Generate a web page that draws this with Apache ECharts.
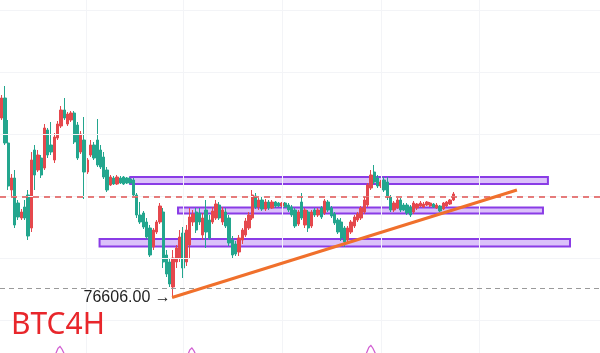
<!DOCTYPE html>
<html>
<head>
<meta charset="utf-8">
<script src="https://cdn.jsdelivr.net/npm/echarts@6/dist/echarts.min.js"></script>
<style>html,body{margin:0;padding:0;background:#fff}#c{width:600px;height:353px}</style>
</head>
<body>
<div id="c"></div>
<script>
// ---- data ----
const slotCount = 182; // visible 4H slots (candles + empty space on the right)
const categories = Array.from({length: slotCount}, (_, i) => 'k' + i);

// [open, close, low, high]
const candles = [
[94600,96600,94400,96900],[96600,92100,91900,97800],[92100,87800,87400,94400],[87400,88600,86800,89000],
[88600,83900,83600,89400],[86100,84700,84400,86400],[84600,85200,84400,85500],[85700,84600,84400,86400],
[86900,82800,82400,87400],[83600,90400,83200,91200],[91400,88900,87400,91900],[89400,90900,89200,91400],
[90600,88900,88600,90900],[89600,93600,89400,94000],[93400,90900,90600,93600],[91900,91200,90900,94200],
[90400,92700,90100,93100],[92600,94000,92400,94300],[93800,95400,93600,95800],[95400,94600,94400,96600],
[94000,95000,93800,95200],[94400,95100,94200,95300],[95100,92200,92000,95300],[93900,90600,90400,94200],
[91200,93000,91000,93300],[92400,89200,86500,94700],[89200,90400,89000,90600],[90900,91900,90700,92400],
[91900,90600,90400,92200],[92400,89900,89700,94500],[91400,89700,89500,91900],[90700,88700,88500,91200],
[89400,87400,87200,89700],[87900,88700,87800,88900],[88600,88000,87900,88800],[88000,88700,87900,88900],
[88600,88100,88000,88800],[88700,88000,87900,88800],[88600,88100,88000,88700],[88500,88100,88000,88700],
[88400,86900,86700,88600],[86900,84900,84600,87100],[84900,84200,84000,86200],[85100,83700,83500,85300],
[84200,82700,82500,84600],[83600,80900,80700,83900],[81700,83400,81400,83600],[83200,84200,83000,84400],
[84200,85800,84000,86100],[85200,80200,79600,85600],[80900,79000,78700,81400],[80200,78000,77700,80600],
[77700,80600,76606,81400],[80200,81600,79600,81900],[80600,82700,80200,83400],[83100,79600,78600,83700],
[80200,83400,79800,83900],[81900,84700,80600,85600],[84200,85000,83800,85400],[85200,83400,83100,85600],
[85100,84200,83900,85600],[82900,84600,82400,85100],[85400,83200,81600,86400],[84400,82600,82400,84900],
[84200,85300,84000,85700],[84600,86000,84400,86400],[85900,84600,84400,86200],[84200,85400,83900,85700],
[85200,83800,83600,85600],[84600,82100,81800,84900],[82400,80900,80600,82800],[82000,81000,80800,82300],
[81200,82600,80800,82900],[82400,83400,82000,83600],[82900,84300,82700,84600],[83600,84900,83400,85200],
[84600,86900,84400,87400],[86800,85700,85500,87100],[85700,86400,85400,86600],[86400,85500,85300,86700],
[85500,86200,85300,86500],[86200,85600,85400,86400],[85600,86200,85500,86400],[86200,85800,85600,86300],
[86100,85800,85700,86200],[85800,86100,85700,86200],[86100,85700,85600,86200],[85900,85400,85200,86100],
[85700,84900,84700,85900],[85400,83800,83600,85600],[84000,85200,83800,85400],[86200,84600,84400,87100],
[83900,85400,83600,85600],[85200,83600,83200,85400],[83800,85200,83600,85400],[85400,84900,84700,85600],
[84900,85400,84700,85600],[85600,84700,84500,85800],[85100,86300,84900,86500],[86200,85400,85200,86400],
[85600,84800,84600,85800],[85000,84100,83900,85200],[84400,83200,83000,84600],[84200,82600,82300,84600],
[83600,82200,81700,83800],[82400,83600,82200,83800],[83200,84200,83000,84400],[83800,84700,83600,84900],
[84400,85000,84200,85200],[84600,85600,84400,85800],[85200,86400,85000,86700],[85900,87900,85700,88100],
[87600,88900,87400,89400],[89200,88200,88000,89900],[88600,87800,87600,88900],[87800,88200,87600,88400],
[88400,87400,87200,88700],[88200,86700,86400,88700],[86700,85400,85200,86900],[85400,86100,85200,86300],
[85600,86400,85500,86600],[86400,85400,85200,86600],[85900,85400,85300,86100],[85900,85100,84900,86100],
[85700,84900,84700,85900],[85200,86100,85000,86300],[85600,86000,85400,86100],[85800,86100,85700,86300],
[85700,86000,85600,86200],[85900,86200,85800,86300],[85800,86100,85700,86200],[86000,85700,85600,86100],
[85600,85900,85500,86100],[85800,85300,85200,85900],[85500,86100,85400,86200],[85800,86200,85700,86300],
[86000,86400,85900,86500],[86400,87000,86300,87200]
];

const currentPrice = 86700;     // red dashed line
const grayLevel = 77600;        // grey dashed line
const swingLow = 76606;         // labelled low
const swingLowIndex = 51.9;

// zones: [fromIndex, toIndex, upperPrice, lowerPrice]
const zoneUpper = [39, 165.7, 88700, 88000];
const zoneMiddle = [53.5, 164.2, 85650, 85050];
const zoneLower = [29.7, 172.4, 82500, 81750];

// trend line points [index, price]
const trendLine = [[51.7, 76650], [156.3, 87400]];

// grid lines
const vGrid = [25.6, 55.0, 85.0, 115.1, 144.8];
const hGrid = [105400, 99200, 93000, 86800, 80600, 74400];

// magenta markers at the bottom edge [index, price]
const signalMarks = [[17.7, 71300], [57.7, 71150], [112.0, 71400]];

// ---- chart ----
const chart = echarts.init(document.getElementById('c'), null, {renderer: 'canvas'});
const RED = '#e5484d', GREEN = '#23a68e';

function zoneArea(z) {
  return [{xAxis: z[0], yAxis: z[2]}, {xAxis: z[1], yAxis: z[3]}];
}

chart.setOption({
  animation: false,
  backgroundColor: '#ffffff',
  title: {
    text: 'BTC4H', left: 11, top: 310, padding: 0,
    textStyle: {color: '#e8262b', fontSize: 30, fontWeight: 'normal', fontFamily: 'Noto Sans'}
  },
  grid: {left: 0, right: 0, top: 0, bottom: 0},
  xAxis: [
    {type: 'category', data: categories, boundaryGap: true, show: false},
    {type: 'value', min: -0.5, max: slotCount - 0.5, show: false}
  ],
  yAxis: {type: 'value', min: 71100, max: 106400, show: false},
  series: [
    {
      name: 'grid', type: 'line', xAxisIndex: 1, data: [[0, swingLow]], symbol: 'none', z: 0,
      lineStyle: {width: 0},
      markLine: {
        silent: true, symbol: ['none', 'none'], label: {show: false},
        lineStyle: {color: '#f3f4f7', width: 1, type: 'solid'},
        data: vGrid.map(v => ({xAxis: v})).concat(hGrid.map(v => ({yAxis: v})))
      }
    },
    {
      name: 'BTC', type: 'candlestick', data: candles, barWidth: 2.8, z: 2,
      itemStyle: {color: RED, color0: GREEN, borderColor: RED, borderColor0: GREEN, borderWidth: 1}
    },
    {
      name: 'levels', type: 'line', xAxisIndex: 1, data: [[0, swingLow]], symbol: 'none', z: 3,
      lineStyle: {width: 0},
      markLine: {
        silent: true, symbol: ['none', 'none'], label: {show: false},
        data: [
          {yAxis: currentPrice, lineStyle: {color: '#e05252', width: 1.5, type: [6, 5]}},
          {yAxis: grayLevel, lineStyle: {color: '#9a9a9a', width: 1, type: [5, 4]}}
        ]
      },
      markArea: {
        silent: true,
        itemStyle: {color: 'rgba(176,118,245,0.45)', borderColor: '#8a3ce6', borderWidth: 2},
        data: [zoneArea(zoneUpper), zoneArea(zoneMiddle), zoneArea(zoneLower)]
      },
      markPoint: {
        silent: true, symbol: 'circle', symbolSize: 0,
        label: {
          show: true, position: 'left', distance: 2,
          formatter: swingLow.toFixed(2) + ' →',
          color: '#1f1f1f', fontSize: 16, fontFamily: 'Liberation Sans'
        },
        data: [{coord: [swingLowIndex, swingLow]}]
      }
    },
    {
      name: 'trend', type: 'line', xAxisIndex: 1, data: trendLine, symbol: 'none', z: 5,
      lineStyle: {color: '#f0702c', width: 3}
    },
    {
      name: 'signals', type: 'scatter', xAxisIndex: 1, data: signalMarks, z: 4,
      symbol: 'path://M0,10 L3,2 L5,0 L7,3 L10,10', symbolSize: [10, 9],
      itemStyle: {color: 'rgba(0,0,0,0)', borderColor: '#c535c5', borderWidth: 1.2}
    }
  ]
});
</script>
</body>
</html>
